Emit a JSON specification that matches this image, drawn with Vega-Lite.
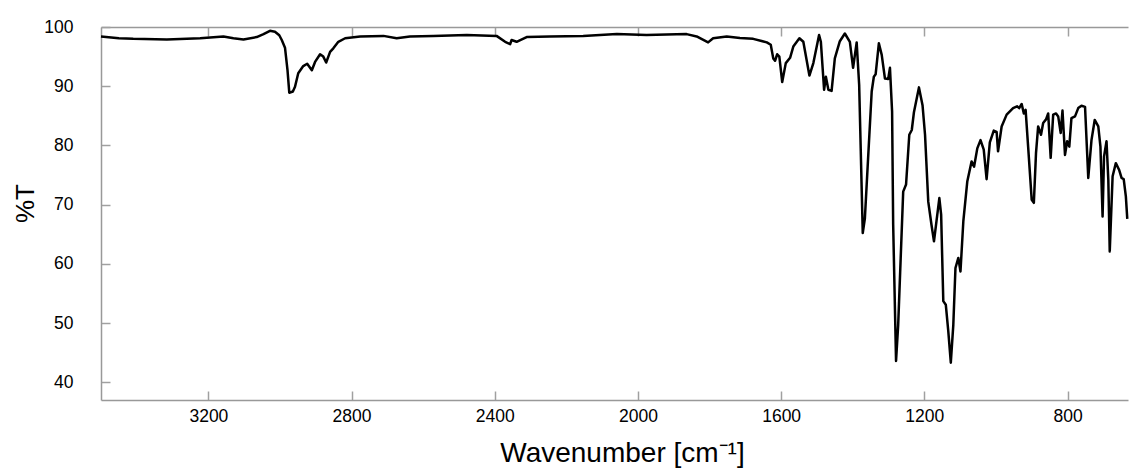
{
  "$schema": "https://vega.github.io/schema/vega-lite/v6.json",
  "width": 1027,
  "height": 373,
  "autosize": {"type": "none"},
  "padding": {"left": 101, "top": 27, "right": 1, "bottom": 70},
  "background": "white",
  "config": {"view": {"stroke": null}, "font": "Liberation Sans"},
  "data": {"values": [
    {"w": 3500, "t": 98.4}, {"w": 3450, "t": 98.1}, {"w": 3410, "t": 98.0}, {"w": 3316, "t": 97.9},
    {"w": 3223, "t": 98.1}, {"w": 3158, "t": 98.4}, {"w": 3130, "t": 98.1}, {"w": 3102, "t": 97.9},
    {"w": 3065, "t": 98.3}, {"w": 3046, "t": 98.8}, {"w": 3028, "t": 99.35}, {"w": 3014, "t": 99.2},
    {"w": 3002, "t": 98.6}, {"w": 2995, "t": 97.8}, {"w": 2986, "t": 96.5}, {"w": 2979, "t": 92.7},
    {"w": 2974, "t": 88.9}, {"w": 2964, "t": 89.1}, {"w": 2958, "t": 89.9}, {"w": 2949, "t": 92.2},
    {"w": 2935, "t": 93.4}, {"w": 2924, "t": 93.8}, {"w": 2911, "t": 92.7}, {"w": 2902, "t": 94.1},
    {"w": 2888, "t": 95.4}, {"w": 2879, "t": 95.0}, {"w": 2871, "t": 94.0}, {"w": 2860, "t": 95.8},
    {"w": 2851, "t": 96.4}, {"w": 2837, "t": 97.5}, {"w": 2818, "t": 98.1}, {"w": 2776, "t": 98.4},
    {"w": 2711, "t": 98.5}, {"w": 2674, "t": 98.1}, {"w": 2637, "t": 98.4}, {"w": 2572, "t": 98.5},
    {"w": 2478, "t": 98.65}, {"w": 2395, "t": 98.5}, {"w": 2371, "t": 97.5}, {"w": 2357, "t": 97.1},
    {"w": 2353, "t": 97.8}, {"w": 2339, "t": 97.5}, {"w": 2311, "t": 98.3}, {"w": 2246, "t": 98.4},
    {"w": 2153, "t": 98.5}, {"w": 2059, "t": 98.8}, {"w": 1976, "t": 98.65}, {"w": 1864, "t": 98.8},
    {"w": 1836, "t": 98.4}, {"w": 1804, "t": 97.4}, {"w": 1790, "t": 98.1}, {"w": 1752, "t": 98.4},
    {"w": 1715, "t": 98.15}, {"w": 1678, "t": 98.0}, {"w": 1640, "t": 97.4}, {"w": 1629, "t": 97.0},
    {"w": 1622, "t": 94.7}, {"w": 1617, "t": 94.3}, {"w": 1611, "t": 95.4}, {"w": 1605, "t": 95.0},
    {"w": 1597, "t": 90.7}, {"w": 1587, "t": 93.9}, {"w": 1575, "t": 94.8}, {"w": 1566, "t": 96.7},
    {"w": 1549, "t": 98.1}, {"w": 1538, "t": 97.5}, {"w": 1521, "t": 91.8}, {"w": 1510, "t": 93.9},
    {"w": 1494, "t": 98.65}, {"w": 1489, "t": 97.5}, {"w": 1480, "t": 89.4}, {"w": 1475, "t": 91.6},
    {"w": 1468, "t": 89.4}, {"w": 1459, "t": 89.2}, {"w": 1450, "t": 94.7}, {"w": 1436, "t": 97.6},
    {"w": 1422, "t": 98.9}, {"w": 1408, "t": 97.5}, {"w": 1399, "t": 93.1}, {"w": 1389, "t": 97.4},
    {"w": 1382, "t": 90.2}, {"w": 1372, "t": 65.2}, {"w": 1366, "t": 67.7}, {"w": 1357, "t": 77.9},
    {"w": 1347, "t": 89.1}, {"w": 1341, "t": 91.6}, {"w": 1336, "t": 92.0}, {"w": 1327, "t": 97.25},
    {"w": 1319, "t": 95.3}, {"w": 1310, "t": 91.3}, {"w": 1301, "t": 91.2}, {"w": 1296, "t": 93.1},
    {"w": 1290, "t": 85.7}, {"w": 1287, "t": 66.6}, {"w": 1279, "t": 43.6}, {"w": 1273, "t": 49.7},
    {"w": 1266, "t": 61.0}, {"w": 1259, "t": 72.2}, {"w": 1251, "t": 73.4}, {"w": 1242, "t": 81.8},
    {"w": 1235, "t": 82.6}, {"w": 1229, "t": 85.6}, {"w": 1215, "t": 89.8}, {"w": 1205, "t": 86.8},
    {"w": 1198, "t": 81.8}, {"w": 1189, "t": 70.5}, {"w": 1180, "t": 66.6}, {"w": 1173, "t": 63.8},
    {"w": 1166, "t": 67.2}, {"w": 1158, "t": 71.1}, {"w": 1153, "t": 68.3}, {"w": 1147, "t": 53.7},
    {"w": 1140, "t": 53.1}, {"w": 1133, "t": 48.6}, {"w": 1126, "t": 43.3}, {"w": 1119, "t": 49.7},
    {"w": 1113, "t": 59.3}, {"w": 1105, "t": 61.0}, {"w": 1099, "t": 58.7}, {"w": 1091, "t": 67.2},
    {"w": 1080, "t": 73.9}, {"w": 1068, "t": 77.3}, {"w": 1061, "t": 76.4}, {"w": 1052, "t": 79.5},
    {"w": 1043, "t": 80.9}, {"w": 1034, "t": 79.3}, {"w": 1026, "t": 74.3}, {"w": 1017, "t": 80.5},
    {"w": 1006, "t": 82.5}, {"w": 998, "t": 82.3}, {"w": 994, "t": 79.0}, {"w": 984, "t": 83.2},
    {"w": 970, "t": 85.2}, {"w": 952, "t": 86.3}, {"w": 941, "t": 86.6}, {"w": 935, "t": 86.3},
    {"w": 928, "t": 87.0}, {"w": 922, "t": 85.4}, {"w": 917, "t": 86.0}, {"w": 910, "t": 79.8},
    {"w": 900, "t": 70.8}, {"w": 894, "t": 70.3}, {"w": 888, "t": 78.7}, {"w": 882, "t": 83.2},
    {"w": 874, "t": 81.8}, {"w": 868, "t": 83.8}, {"w": 860, "t": 84.4}, {"w": 854, "t": 85.4},
    {"w": 847, "t": 77.9}, {"w": 840, "t": 85.2}, {"w": 832, "t": 85.4}, {"w": 826, "t": 84.9},
    {"w": 819, "t": 82.1}, {"w": 814, "t": 85.9}, {"w": 807, "t": 78.4}, {"w": 801, "t": 80.7},
    {"w": 795, "t": 79.8}, {"w": 789, "t": 84.6}, {"w": 779, "t": 84.9}, {"w": 770, "t": 86.3},
    {"w": 761, "t": 86.7}, {"w": 751, "t": 86.5}, {"w": 742, "t": 74.5}, {"w": 733, "t": 80.9},
    {"w": 724, "t": 84.3}, {"w": 714, "t": 83.2}, {"w": 708, "t": 79.8}, {"w": 702, "t": 68.0},
    {"w": 698, "t": 78.1}, {"w": 691, "t": 80.7}, {"w": 686, "t": 74.2}, {"w": 682, "t": 62.1},
    {"w": 674, "t": 74.8}, {"w": 665, "t": 77.0}, {"w": 656, "t": 75.9}, {"w": 649, "t": 74.5},
    {"w": 643, "t": 74.3}, {"w": 637, "t": 71.4}, {"w": 633, "t": 67.6}
  ]},
  "layer": [
    {
      "mark": {"type": "line", "color": "black", "strokeWidth": 2.5, "strokeJoin": "round"},
      "encoding": {
        "x": {
          "field": "w", "type": "quantitative",
          "scale": {"domain": [631, 3500], "reverse": true, "nice": false, "zero": false},
          "axis": {
            "orient": "bottom", "values": [3200, 2800, 2400, 2000, 1600, 1200, 800], "format": "d",
            "grid": false, "ticks": true, "tickSize": -9, "tickWidth": 1.5, "tickColor": "#a0a0a0", "domainColor": "#999999", "domainWidth": 1.5,
            "labelFontSize": 17.5, "labelColor": "black", "labelPadding": 16, "labelFont": "Liberation Sans",
            "title": "Wavenumber [cm⁻¹]", "titleFontSize": 28, "titleFontWeight": "normal",
            "titleColor": "black", "titleFont": "Liberation Sans", "titlePadding": 15, "titleX": 521
          }
        },
        "y": {
          "field": "t", "type": "quantitative",
          "scale": {"domain": [37, 100], "nice": false, "zero": false},
          "axis": {
            "values": [40, 50, 60, 70, 80, 90, 100], "format": "d", "grid": false, "ticks": true, "tickSize": -9, "tickWidth": 1.5,
            "tickColor": "#a0a0a0", "domainColor": "#999999", "domainWidth": 1.5,
            "labelFontSize": 17.5, "labelColor": "black", "labelPadding": 37, "labelFont": "Liberation Sans",
            "title": "%T", "titleFontSize": 26, "titleFontWeight": "normal",
            "titleColor": "black", "titleFont": "Liberation Sans", "titlePadding": 5, "titleY": 176
          }
        }
      }
    },
    {
      "mark": {"type": "line", "opacity": 0},
      "encoding": {
        "x": {
          "field": "w", "type": "quantitative",
          "scale": {"domain": [631, 3500], "reverse": true, "nice": false, "zero": false},
          "axis": {
            "orient": "top", "values": [3200, 2800, 2400, 2000, 1600, 1200, 800],
            "grid": false, "ticks": true, "tickSize": -9, "tickWidth": 1.5, "tickColor": "#a0a0a0", "domainColor": "#999999", "domainWidth": 1.5,
            "labels": false, "title": null
          }
        },
        "y": {
          "field": "t", "type": "quantitative",
          "scale": {"domain": [37, 100], "nice": false, "zero": false},
          "axis": {
            "values": [40, 50, 60, 70, 80, 90, 100], "format": "d", "grid": false, "ticks": true, "tickSize": -9, "tickWidth": 1.5,
            "tickColor": "#a0a0a0", "domainColor": "#999999", "domainWidth": 1.5,
            "labelFontSize": 17.5, "labelColor": "black", "labelPadding": 37, "labelFont": "Liberation Sans",
            "title": "%T", "titleFontSize": 26, "titleFontWeight": "normal",
            "titleColor": "black", "titleFont": "Liberation Sans", "titlePadding": 5, "titleY": 176
          }
        }
      }
    }
  ],
  "resolve": {"axis": {"x": "independent"}}
}
